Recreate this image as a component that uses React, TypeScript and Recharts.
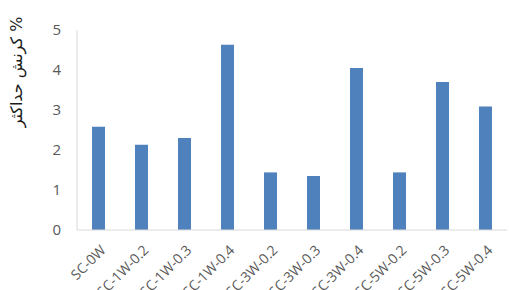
import { BarChart, Bar, XAxis, YAxis } from "recharts";

const samples = [
  "SC-0W",
  "SC-1W-0.2",
  "SC-1W-0.3",
  "SC-1W-0.4",
  "SC-3W-0.2",
  "SC-3W-0.3",
  "SC-3W-0.4",
  "SC-5W-0.2",
  "SC-5W-0.3",
  "SC-5W-0.4",
];
const maxStrain = [2.58, 2.13, 2.3, 4.63, 1.44, 1.35, 4.05, 1.44, 3.7, 3.09];
const yTicks = [0, 1, 2, 3, 4, 5];
const yLabel = "کرنش حداکثر %";

const data = samples.map((name, i) => ({ name, value: maxStrain[i] }));

const axisColor = "#d9d9d9";
const tickColor = "#595959";
const barColor = "#4f81bd";

function YLabel() {
  return (
    <text
      x={22}
      y={72}
      transform="rotate(-90 22 72)"
      textAnchor="middle"
      fontSize={16}
      fill="#1a1a1a"
      fontFamily="'DejaVu Sans', sans-serif"
    >
      {yLabel}
    </text>
  );
}

export default function App() {
  return (
    <div style={{ position: "absolute", left: 0, top: 0, width: 509, height: 290, background: "#fff", overflow: "hidden" }}>
      <BarChart
        width={509}
        height={290}
        data={data}
        margin={{ top: 30, right: 2, bottom: 0, left: 0 }}
      >
        <XAxis
          dataKey="name"
          interval={0}
          tickLine={false}
          tickSize={0}
          tickMargin={14}
          axisLine={{ stroke: axisColor }}
          angle={-45}
          textAnchor="end"
          tick={{ fontSize: 14, fill: tickColor, fontFamily: "'Open Sans', sans-serif", dx: 1 }}
          height={60}
        />
        <YAxis
          domain={[0, 5]}
          ticks={yTicks}
          width={77}
          tickLine={false}
          tickSize={0}
          tickMargin={16}
          axisLine={{ stroke: axisColor }}
          tick={{ fontSize: 15, fill: tickColor, fontFamily: "'Open Sans', sans-serif" }}
          label={<YLabel />}
        />
        <Bar dataKey="value" fill={barColor} barSize={13} isAnimationActive={false} />
      </BarChart>
    </div>
  );
}
